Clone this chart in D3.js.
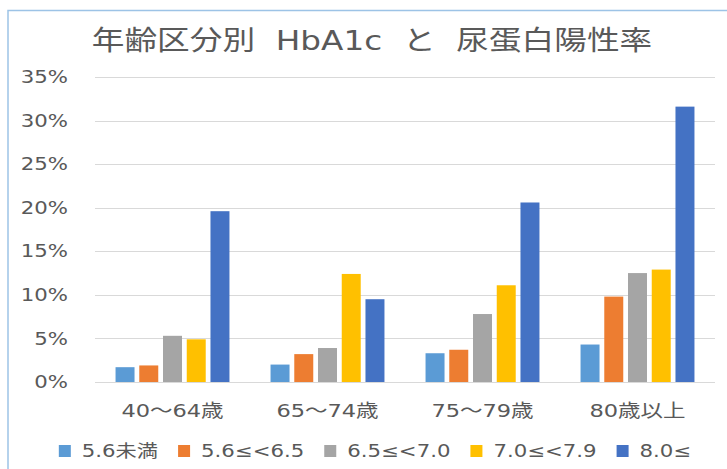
<!DOCTYPE html>
<html><head><meta charset="utf-8">
<script src="https://cdn.jsdelivr.net/npm/d3@7"></script>
<style>
html,body{margin:0;padding:0;background:#fff;}
svg text{font-family:"DejaVu Sans","Noto Sans CJK JP",sans-serif;fill:#595959;white-space:pre;}
</style></head>
<body><svg id="c" width="727" height="469"></svg>
<script>
const title = "年齢区分別  HbA1c  と  尿蛋白陽性率";
const categories = ["40～64歳", "65～74歳", "75～79歳", "80歳以上"];
const seriesNames = ["5.6未満", "5.6≤<6.5", "6.5≤<7.0", "7.0≤<7.9", "8.0≤"];
const s1 = [1.7, 2.0, 3.3, 4.3];
const s2 = [1.9, 3.2, 3.7, 9.8];
const s3 = [5.3, 3.9, 7.8, 12.5];
const s4 = [4.9, 12.4, 11.1, 12.9];
const s5 = [19.6, 9.5, 20.6, 31.6];
const seriesValues = [s1, s2, s3, s4, s5];
const colors = ["#5B9BD5", "#ED7D31", "#A5A5A5", "#FFC000", "#4472C4"];
const yTicks = [0, 5, 10, 15, 20, 25, 30, 35];

const svg = d3.select("#c");
const SX = 1.25;

// chart border
svg.append("rect").attr("x", 8).attr("y", 10.5).attr("width", 760).attr("height", 520)
  .attr("fill", "#fff").attr("stroke", "#9DC3E6").attr("stroke-width", 1.5);

const plot = {left: 95, right: 715, top: 77, bottom: 382};
const x0 = d3.scaleBand().domain(categories).range([plot.left, plot.right])
  .paddingInner(0.265).paddingOuter(0.1325);
const x1 = d3.scaleBand().domain(seriesNames).range([0, x0.bandwidth()]).paddingInner(0.2);
const y = d3.scaleLinear().domain([0, 35]).range([plot.bottom, plot.top]);

// gridlines
svg.append("g").selectAll("line").data(yTicks).join("line")
  .attr("x1", plot.left).attr("x2", plot.right)
  .attr("y1", d => Math.round(y(d)) + 0.5).attr("y2", d => Math.round(y(d)) + 0.5)
  .attr("stroke", "#D9D9D9").attr("stroke-width", 1);

// y labels
svg.append("g").selectAll("text").data(yTicks).join("text")
  .attr("transform", d => `translate(68,${y(d)}) scale(${SX},1)`)
  .attr("text-anchor", "end").attr("dy", "0.36em")
  .style("font-size", "17px").text(d => d + "%");

// bars
const groups = svg.append("g").selectAll("g").data(categories).join("g")
  .attr("transform", d => `translate(${x0(d)},0)`);
groups.selectAll("rect").data((c, ci) => seriesNames.map((s, si) => ({s, si, v: seriesValues[si][ci]})))
  .join("rect")
  .attr("x", d => x1(d.s)).attr("width", x1.bandwidth())
  .attr("y", d => y(d.v)).attr("height", d => y(0) - y(d.v))
  .attr("fill", d => colors[d.si]);

// category labels
svg.append("g").selectAll("text").data(categories).join("text")
  .attr("transform", d => `translate(${x0(d) + x0.bandwidth() / 2},417) scale(${SX},1)`)
  .attr("text-anchor", "middle").style("font-size", "18px").text(d => d);

// title
svg.append("text").attr("transform", `translate(372,50) scale(1.21,1)`)
  .attr("text-anchor", "middle").style("font-size", "27px").text(title);

// legend
const leg = svg.append("g");
const items = leg.selectAll("g").data(seriesNames).join("g");
items.append("rect").attr("width", 12).attr("height", 12).attr("y", -12)
  .attr("fill", (d, i) => colors[i]);
items.append("text").attr("transform", `translate(23,0) scale(${SX},1)`)
  .style("font-size", "17px").text(d => d);
let cx = 0;
items.each(function() {
  const w = d3.select(this).select("text").node().getComputedTextLength() * SX;
  d3.select(this).attr("transform", `translate(${cx},457)`);
  cx += 23 + w + 20;
});
const total = cx - 20;
leg.attr("transform", `translate(${375 - total / 2},0)`);
</script></body></html>
